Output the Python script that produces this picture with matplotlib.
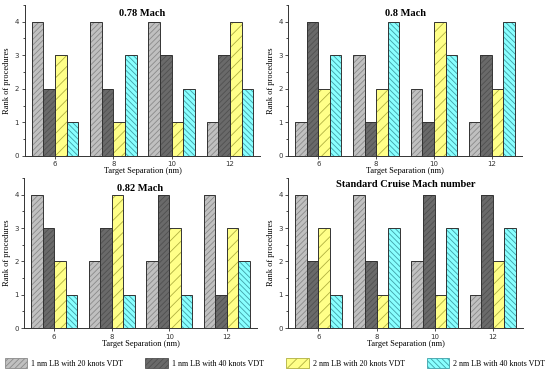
import matplotlib
matplotlib.use("Agg")
import matplotlib.pyplot as plt
from matplotlib.patches import Patch
from matplotlib.ticker import MultipleLocator
import numpy as np

separations = ["6", "8", "10", "12"]
series_names = ["1 nm LB with 20 knots VDT", "1 nm LB with 40 knots VDT",
                "2 nm LB with 20 knots VDT", "2 nm LB with 40 knots VDT"]
titles = ["0.78 Mach", "0.8 Mach", "0.82 Mach", "Standard Cruise Mach number"]

mach078 = [[4, 4, 4, 1], [2, 2, 3, 3], [3, 1, 1, 4], [1, 3, 2, 2]]
mach080 = [[1, 3, 2, 1], [4, 1, 1, 3], [2, 2, 4, 2], [3, 4, 3, 4]]
mach082 = [[4, 2, 2, 4], [3, 3, 4, 1], [2, 4, 3, 3], [1, 1, 1, 2]]
standard = [[4, 4, 2, 1], [2, 2, 4, 4], [3, 1, 1, 2], [1, 3, 3, 3]]
panels = [mach078, mach080, mach082, standard]

faces = ["#c0c0c0", "#6a6a6a", "#ffff88", "#88ffff"]
hatch_cols = ["#8a8a8a", "#505050", "#b0b040", "#40a0a8"]
hatches = ["//////", "//////", "///", "\\\\\\\\\\\\"]
edge = "#333333"

plt.rcParams['hatch.linewidth'] = 0.6
serif = "Liberation Serif"

fig = plt.figure(figsize=(5.5, 3.73), dpi=100)
rects = [
    [0.045, 0.582, 0.428, 0.405],
    [0.524, 0.582, 0.425, 0.405],
    [0.044, 0.1206, 0.423, 0.402],
    [0.524, 0.1206, 0.427, 0.402],
]
title_y = [0.94, 0.94, 0.93, 0.955]

x = np.arange(len(separations))
w = 0.2
for k, (rect, data) in enumerate(zip(rects, panels)):
    ax = fig.add_axes(rect)
    for i, vals in enumerate(data):
        pos = x + (i - 1.5) * w
        ax.bar(pos, vals, w, color=faces[i], hatch=hatches[i],
               edgecolor=hatch_cols[i], linewidth=0, zorder=2)
        ax.bar(pos, vals, w, facecolor="none", edgecolor=edge,
               linewidth=0.7, zorder=3)
    ax.set_xlim(-0.52, 3.52)
    ax.set_ylim(0, 4.5)
    ax.set_xticks(x)
    ax.set_xticklabels(separations)
    ax.yaxis.set_major_locator(MultipleLocator(1))
    ax.yaxis.set_minor_locator(MultipleLocator(0.5))
    for s in ["top", "right"]:
        ax.spines[s].set_visible(False)
    for s in ["left", "bottom"]:
        ax.spines[s].set_linewidth(0.7)
        ax.spines[s].set_color("#333333")
    ax.tick_params(axis="both", which="major", labelsize=5, length=2.5,
                   width=0.6, pad=1.5, colors="#333333")
    ax.tick_params(axis="y", which="minor", length=1.5, width=0.5)
    ax.set_ylabel("Rank of procedures", fontfamily=serif, fontsize=6, labelpad=2.5)
    ax.set_xlabel("Target Separation (nm)", fontfamily=serif, fontsize=6, labelpad=0)
    ax.text(0.5, title_y[k], titles[k], transform=ax.transAxes, ha="center",
            va="center", fontfamily=serif, fontweight="bold", fontsize=7.5)

handles = [Patch(facecolor=faces[i], hatch=hatches[i], edgecolor=hatch_cols[i],
                 linewidth=0.6) for i in range(4)]
fig.legend(handles, series_names, loc="lower left", ncol=4,
           bbox_to_anchor=(0.0, 0.0, 1.0, 0.06), mode="expand", frameon=False,
           prop={"family": serif, "size": 5.8}, handlelength=2.8, handleheight=1.5,
           handletextpad=0.5, borderaxespad=0.2)

fig.savefig("out.png", dpi=100)
